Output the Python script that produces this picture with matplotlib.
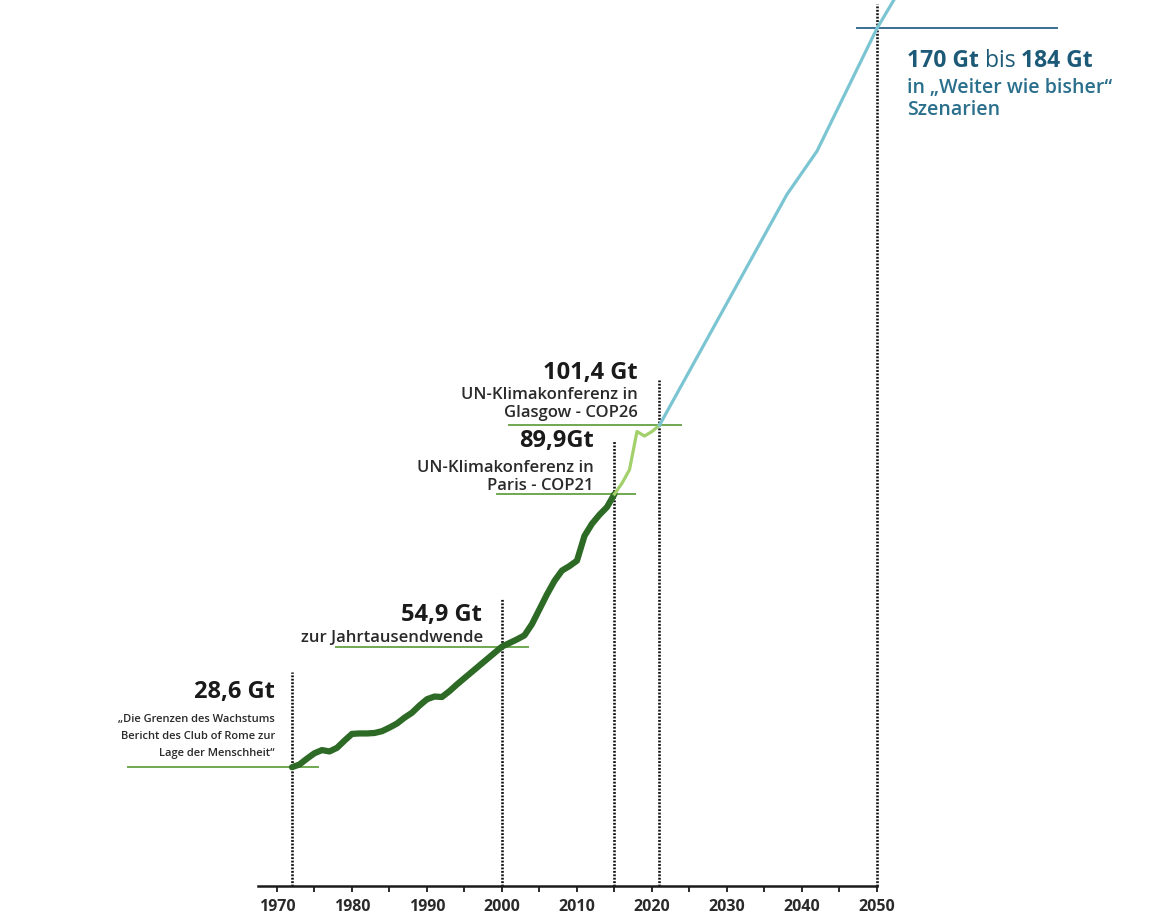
import numpy as np
import matplotlib
matplotlib.use("Agg")
import matplotlib.pyplot as plt

plt.rcParams["font.family"] = ["Open Sans", "DejaVu Sans"]

# Rohstoffentnahme weltweit (Gt)
jahre_hist = [1972, 1973, 1974, 1975, 1976, 1977, 1978, 1979, 1980, 1981,
              1982, 1983, 1984, 1985, 1986, 1987, 1988, 1989, 1990, 1991,
              1992, 1993, 1994, 1995, 1996, 1997, 1998, 1999, 2000, 2001,
              2002, 2003, 2004, 2005, 2006, 2007, 2008, 2009, 2010, 2011,
              2012, 2013, 2014, 2015]
werte_hist = [26.4, 27.0, 28.3, 29.5, 30.2, 29.9, 30.7, 32.3, 33.8, 33.9,
              33.9, 34.0, 34.4, 35.2, 36.1, 37.4, 38.5, 40.1, 41.5, 42.1,
              42.0, 43.3, 44.8, 46.2, 47.6, 49.0, 50.4, 51.8, 53.2, 54.0,
              54.8, 55.7, 58.2, 61.5, 64.8, 67.8, 70.1, 71.1, 72.3, 77.8,
              80.5, 82.5, 84.2, 87.1]

jahre_neu = [2015, 2016, 2017, 2018, 2019, 2020, 2021]
werte_neu = [87.1, 89.5, 92.5, 101.0, 100.0, 101.0, 102.4]

jahre_prog = [2021, 2038, 2042, 2050, 2053]
werte_prog = [102.4, 153.7, 163.3, 190.6, 199.0]

# Markierte Jahre und Beschriftungen
marken_jahre = [1972, 2000, 2015, 2021]
marken_wert = ["28,6 Gt", "54,9 Gt", "89,9Gt", "101,4 Gt"]
marken_text = ["„Die Grenzen des Wachstums\nBericht des Club of Rome zur\nLage der Menschheit“",
               "zur Jahrtausendwende",
               "UN-Klimakonferenz in\nParis - COP21",
               "UN-Klimakonferenz in\nGlasgow - COP26"]

ziel_jahr = 2050
ziel_text = ["170 Gt", " bis ", "184 Gt"]
ziel_unter = "in „Weiter wie bisher“\nSzenarien"

tick_jahre = list(range(1970, 2051, 10))

# Layout (Pixel-Offsets)
linie_links = [21.9, 22.1, 15.6, 20.0]
linie_rechts = [3.5, 3.5, 2.7, 2.9]
punkt_hoehe = [47.6, 64.0, 99.1, 112.4]
wert_off = [(-17, 75), (-20, 32), (-21, 53), (-22, 52)]
text_off = [(-17, 31), (-19, 9), (-21, 17), (-22, 21)]
text_gr = [8, 12, 12, 12]
text_ls = [1.75, 1.0, 1.12, 1.12]

alle_jahre = jahre_hist + jahre_neu[1:] + jahre_prog[1:]
alle_werte = werte_hist + werte_neu[1:] + werte_prog[1:]

fig = plt.figure(figsize=(11.49, 9.16), dpi=100)
ax = fig.add_axes([0, 0, 1, 1])
ax.set_xlim(1933.07, 2086.27)
ax.set_ylim(-6.67, 196.9)

for s in ["top", "right", "left"]:
    ax.spines[s].set_visible(False)
ax.spines["bottom"].set_position(("data", 0))
ax.spines["bottom"].set_bounds(1967.5, 2050)
ax.spines["bottom"].set_linewidth(1.8)
ax.spines["bottom"].set_color("#1a1a1a")
ax.set_yticks([])
ax.set_xticks(tick_jahre)
ax.set_xticks(range(1975, 2050, 10), minor=True)
ax.tick_params(axis="x", which="both", direction="out", length=4.5, width=1.3,
               color="#1a1a1a", pad=5)
ax.set_xticklabels([str(j) for j in tick_jahre], fontsize=11.5,
                   fontweight="bold", color="#2a2a2a")

# Gepunktete Linien
for j, h in zip(marken_jahre, punkt_hoehe):
    ax.plot([j, j], [0, h], color="#111111", lw=1.9, ls=(0, (0.7, 0.6)), zorder=2)
ax.plot([ziel_jahr, ziel_jahr], [0, 196], color="#111111", lw=1.9,
        ls=(0, (0.7, 0.6)), zorder=2)

# Kurven
ax.plot(jahre_hist, werte_hist, color="#2d6a25", lw=4.5, solid_capstyle="round",
        solid_joinstyle="round", zorder=4)
ax.plot(jahre_neu, werte_neu, color="#a2d06a", lw=2.3, zorder=4)
ax.plot(jahre_prog, werte_prog, color="#7bc5d3", lw=2.3, zorder=4)

# Markierungen
for i, j in enumerate(marken_jahre):
    y = np.interp(j, alle_jahre, alle_werte)
    ax.plot([j - linie_links[i], j + linie_rechts[i]], [y, y], color="#6fa851",
            lw=1.4, zorder=3)
    ax.annotate(marken_wert[i], xy=(j, y), xytext=wert_off[i],
                textcoords="offset pixels", ha="right", va="center",
                fontsize=17, fontweight="bold", color="#1a1a1a")
    ax.annotate(marken_text[i], xy=(j, y), xytext=text_off[i],
                textcoords="offset pixels", ha="right", va="center",
                fontsize=text_gr[i], fontweight="semibold", color="#2a2a2a",
                linespacing=text_ls[i])

y50 = np.interp(ziel_jahr, alle_jahre, alle_werte)
ax.plot([ziel_jahr - 2.7, ziel_jahr + 24], [y50, y50], color="#3b6d92", lw=1.4, zorder=3)
t1 = ax.annotate(ziel_text[0], xy=(ziel_jahr, y50), xytext=(30, -33),
                 textcoords="offset pixels", ha="left", va="center",
                 fontsize=16.5, fontweight="bold", color="#1d5a78")
t2 = ax.annotate(ziel_text[1], xy=(1, 0), xycoords=t1, ha="left", va="bottom",
                 fontsize=16.5, color="#1d5a78")
ax.annotate(ziel_text[2], xy=(1, 0), xycoords=t2, ha="left", va="bottom",
            fontsize=16.5, fontweight="bold", color="#1d5a78")
ax.annotate(ziel_unter, xy=(ziel_jahr, y50), xytext=(30, -71),
            textcoords="offset pixels", ha="left", va="center",
            fontsize=14, fontweight="semibold", color="#2a6f8c", linespacing=1.15)

fig.savefig("out.png", dpi=100)
